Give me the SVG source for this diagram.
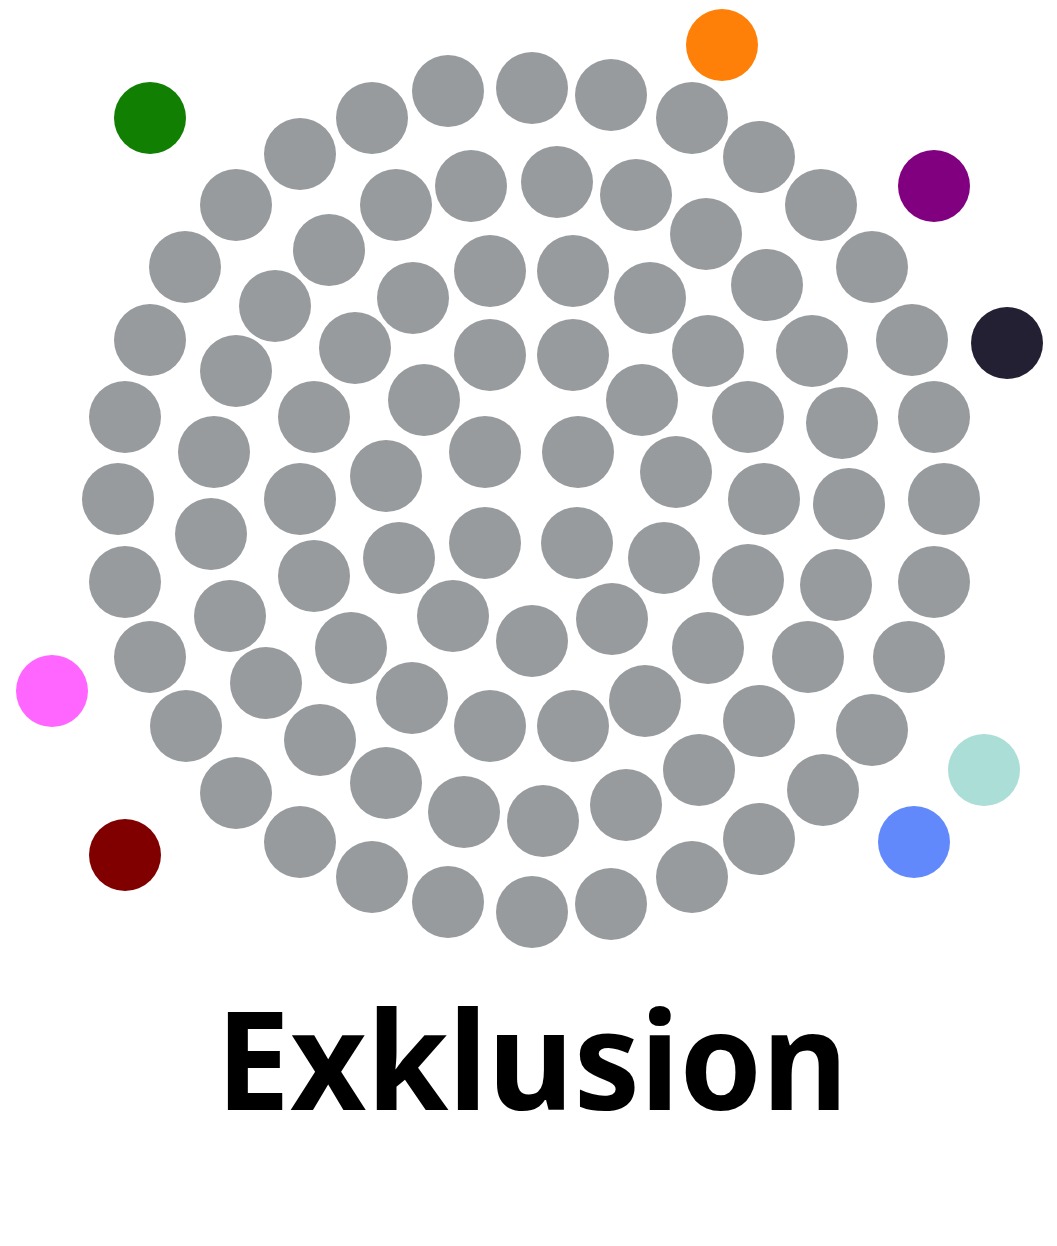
<svg xmlns="http://www.w3.org/2000/svg" width="1057" height="1246" viewBox="0 0 1057 1246">
<style>
.g{fill:#979b9d}
.t{font-family:"Noto Sans","DejaVu Sans",sans-serif;font-weight:bold;font-size:137px;fill:#000}
</style>
<defs><circle id="c" r="36"/></defs>
<rect width="1057" height="1246" fill="#fff"/>
<g id="gray-dots" class="g">
<use href="#c" x="448" y="91"/><use href="#c" x="532" y="88"/><use href="#c" x="611" y="95"/>
<use href="#c" x="372" y="118"/><use href="#c" x="692" y="118"/><use href="#c" x="300" y="154"/>
<use href="#c" x="759" y="157"/><use href="#c" x="236" y="205"/><use href="#c" x="396" y="205"/>
<use href="#c" x="471" y="186"/><use href="#c" x="557" y="182"/><use href="#c" x="636" y="195"/>
<use href="#c" x="821" y="205"/><use href="#c" x="706" y="234"/><use href="#c" x="185" y="267"/>
<use href="#c" x="329" y="250"/><use href="#c" x="872" y="267"/><use href="#c" x="275" y="306"/>
<use href="#c" x="413" y="298"/><use href="#c" x="490" y="271"/><use href="#c" x="573" y="271"/>
<use href="#c" x="650" y="298"/><use href="#c" x="767" y="285"/><use href="#c" x="150" y="340"/>
<use href="#c" x="912" y="340"/><use href="#c" x="355" y="348"/><use href="#c" x="490" y="355"/>
<use href="#c" x="573" y="355"/><use href="#c" x="708" y="351"/><use href="#c" x="812" y="351"/>
<use href="#c" x="236" y="371"/><use href="#c" x="125" y="417"/><use href="#c" x="934" y="417"/>
<use href="#c" x="314" y="417"/><use href="#c" x="424" y="400"/><use href="#c" x="642" y="400"/>
<use href="#c" x="748" y="417"/><use href="#c" x="842" y="423"/><use href="#c" x="214" y="452"/>
<use href="#c" x="485" y="452"/><use href="#c" x="578" y="452"/><use href="#c" x="118" y="499"/>
<use href="#c" x="944" y="499"/><use href="#c" x="300" y="499"/><use href="#c" x="386" y="476"/>
<use href="#c" x="676" y="472"/><use href="#c" x="764" y="499"/><use href="#c" x="849" y="504"/>
<use href="#c" x="211" y="534"/><use href="#c" x="485" y="543"/><use href="#c" x="577" y="543"/>
<use href="#c" x="125" y="582"/><use href="#c" x="934" y="582"/><use href="#c" x="314" y="576"/>
<use href="#c" x="399" y="558"/><use href="#c" x="664" y="558"/><use href="#c" x="748" y="580"/>
<use href="#c" x="836" y="585"/><use href="#c" x="230" y="616"/><use href="#c" x="453" y="616"/>
<use href="#c" x="612" y="619"/><use href="#c" x="532" y="641"/><use href="#c" x="150" y="657"/>
<use href="#c" x="351" y="648"/><use href="#c" x="708" y="648"/><use href="#c" x="808" y="657"/>
<use href="#c" x="909" y="657"/><use href="#c" x="266" y="683"/><use href="#c" x="412" y="698"/>
<use href="#c" x="645" y="701"/><use href="#c" x="490" y="726"/><use href="#c" x="573" y="726"/>
<use href="#c" x="186" y="726"/><use href="#c" x="320" y="740"/><use href="#c" x="759" y="721"/>
<use href="#c" x="872" y="730"/><use href="#c" x="236" y="793"/><use href="#c" x="386" y="783"/>
<use href="#c" x="699" y="770"/><use href="#c" x="823" y="790"/><use href="#c" x="464" y="812"/>
<use href="#c" x="543" y="821"/><use href="#c" x="626" y="805"/><use href="#c" x="300" y="842"/>
<use href="#c" x="759" y="839"/><use href="#c" x="372" y="877"/><use href="#c" x="692" y="877"/>
<use href="#c" x="448" y="902"/><use href="#c" x="532" y="912"/><use href="#c" x="611" y="904"/>
</g>
<g id="colored-dots">
<use href="#c" x="722" y="45" fill="#fe8008"/>
<use href="#c" x="150" y="118" fill="#117f02"/>
<use href="#c" x="934" y="186" fill="#800080"/>
<use href="#c" x="1007" y="343" fill="#232034"/>
<use href="#c" x="52" y="691" fill="#ff66ff"/>
<use href="#c" x="125" y="855" fill="#800000"/>
<use href="#c" x="984" y="770" fill="#abded6"/>
<use href="#c" x="914" y="842" fill="#6289fb"/>
</g>
<g id="title">
<text class="t" x="532" y="1110" text-anchor="middle" textLength="632" lengthAdjust="spacingAndGlyphs">Exklusion</text>
</g>
</svg>
